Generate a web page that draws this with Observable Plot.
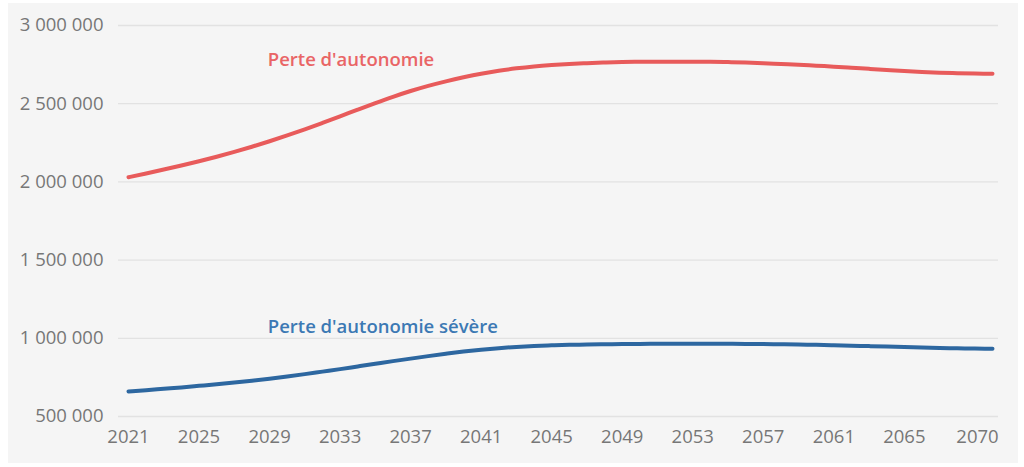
<!DOCTYPE html>
<html>
<head>
<meta charset="utf-8">
<script src="https://cdn.jsdelivr.net/npm/d3@7"></script>
<script src="https://cdn.jsdelivr.net/npm/@observablehq/plot@0.6"></script>
<style>
  html, body { margin: 0; padding: 0; background: #ffffff; }
  #wrap { position: relative; width: 1024px; height: 467px; }
  #panel { position: absolute; left: 8px; top: 3px; width: 1010px; height: 460px; background: #f5f5f5; }
  #chart { position: absolute; left: 0; top: 0; }
  #chart svg { background: transparent; }
</style>
</head>
<body>
<div id="wrap"><div id="panel"></div><div id="chart"></div></div>
<script>
const years = d3.range(2021, 2071);
const perteAutonomie = [
  2030000, 2054000, 2079000, 2105000, 2132000, 2161000, 2192000, 2225000, 2260000, 2297000,
  2336000, 2377000, 2419000, 2462000, 2504000, 2544000, 2581000, 2614000, 2643000, 2669000,
  2692000, 2711000, 2726000, 2738000, 2747000, 2754000, 2759000, 2763000, 2766000, 2768000,
  2769000, 2769000, 2769000, 2768000, 2766000, 2763000, 2759000, 2754000, 2749000, 2743000,
  2737000, 2730000, 2723000, 2716000, 2709000, 2703000, 2698000, 2695000, 2693000, 2691000
];
const perteSevere = [
  660000, 668000, 677000, 686000, 696000, 706000, 717000, 729000, 742000, 756000,
  771000, 787000, 803000, 820000, 837000, 854000, 870000, 886000, 901000, 915000,
  927000, 937000, 945000, 951000, 955000, 958000, 960000, 962000, 963000, 964000,
  965000, 965000, 965000, 965000, 965000, 964000, 963000, 962000, 960000, 958000,
  956000, 953000, 950000, 947000, 944000, 941000, 938000, 936000, 934000, 933000
];
const xTicks = [2021, 2025, 2029, 2033, 2037, 2041, 2045, 2049, 2053, 2057, 2061, 2065];
const xLastTick = [2070];
const yTicks = [500000, 1000000, 1500000, 2000000, 2500000, 3000000];
const seriesLabels = [
  {name: "Perte d'autonomie", year: 2028.9, value: 2776000, color: "#e96566"},
  {name: "Perte d'autonomie sévère", year: 2028.9, value: 1069000, color: "#3c79b4"}
];

const red = years.map((y, i) => ({year: y, value: perteAutonomie[i]}));
const blue = years.map((y, i) => ({year: y, value: perteSevere[i]}));
const fmt = d => d3.format(",")(d).replace(/,/g, " ");
const FS = 18.5;

const chart = Plot.plot({
  width: 1024,
  height: 467,
  marginLeft: 118,
  marginRight: 26,
  marginTop: 25,
  marginBottom: 51,
  style: {fontFamily: "'Open Sans', sans-serif", fontSize: FS + "px", color: "#777", background: "transparent"},
  x: {domain: [2021, 2070], insetLeft: 10, insetRight: 6},
  y: {domain: [500000, 3000000]},
  marks: [
    Plot.gridY(yTicks, {stroke: "#e2e2e2", strokeOpacity: 1, strokeWidth: 1.3}),
    Plot.axisY(yTicks, {tickSize: 0, tickPadding: 15, tickFormat: fmt, fill: "#777", fontSize: FS, label: null}),
    Plot.axisX(xTicks, {tickSize: 0, tickPadding: 13, tickFormat: d => String(d), fill: "#777", fontSize: FS, label: null}),
    Plot.axisX(xLastTick, {tickSize: 0, tickPadding: 13, dx: -15, tickFormat: d => String(d), fill: "#777", fontSize: FS, label: null}),
    Plot.line(red, {x: "year", y: "value", stroke: "#e85b5b", strokeWidth: 4, curve: "monotone-x", strokeLinecap: "round"}),
    Plot.line(blue, {x: "year", y: "value", stroke: "#2d67a0", strokeWidth: 4, curve: "monotone-x", strokeLinecap: "round"}),
    Plot.text(seriesLabels, {x: "year", y: "value", text: "name", fill: "color", textAnchor: "start", fontSize: FS, fontWeight: 600})
  ]
});
document.getElementById("chart").appendChild(chart);
</script>
</body>
</html>
